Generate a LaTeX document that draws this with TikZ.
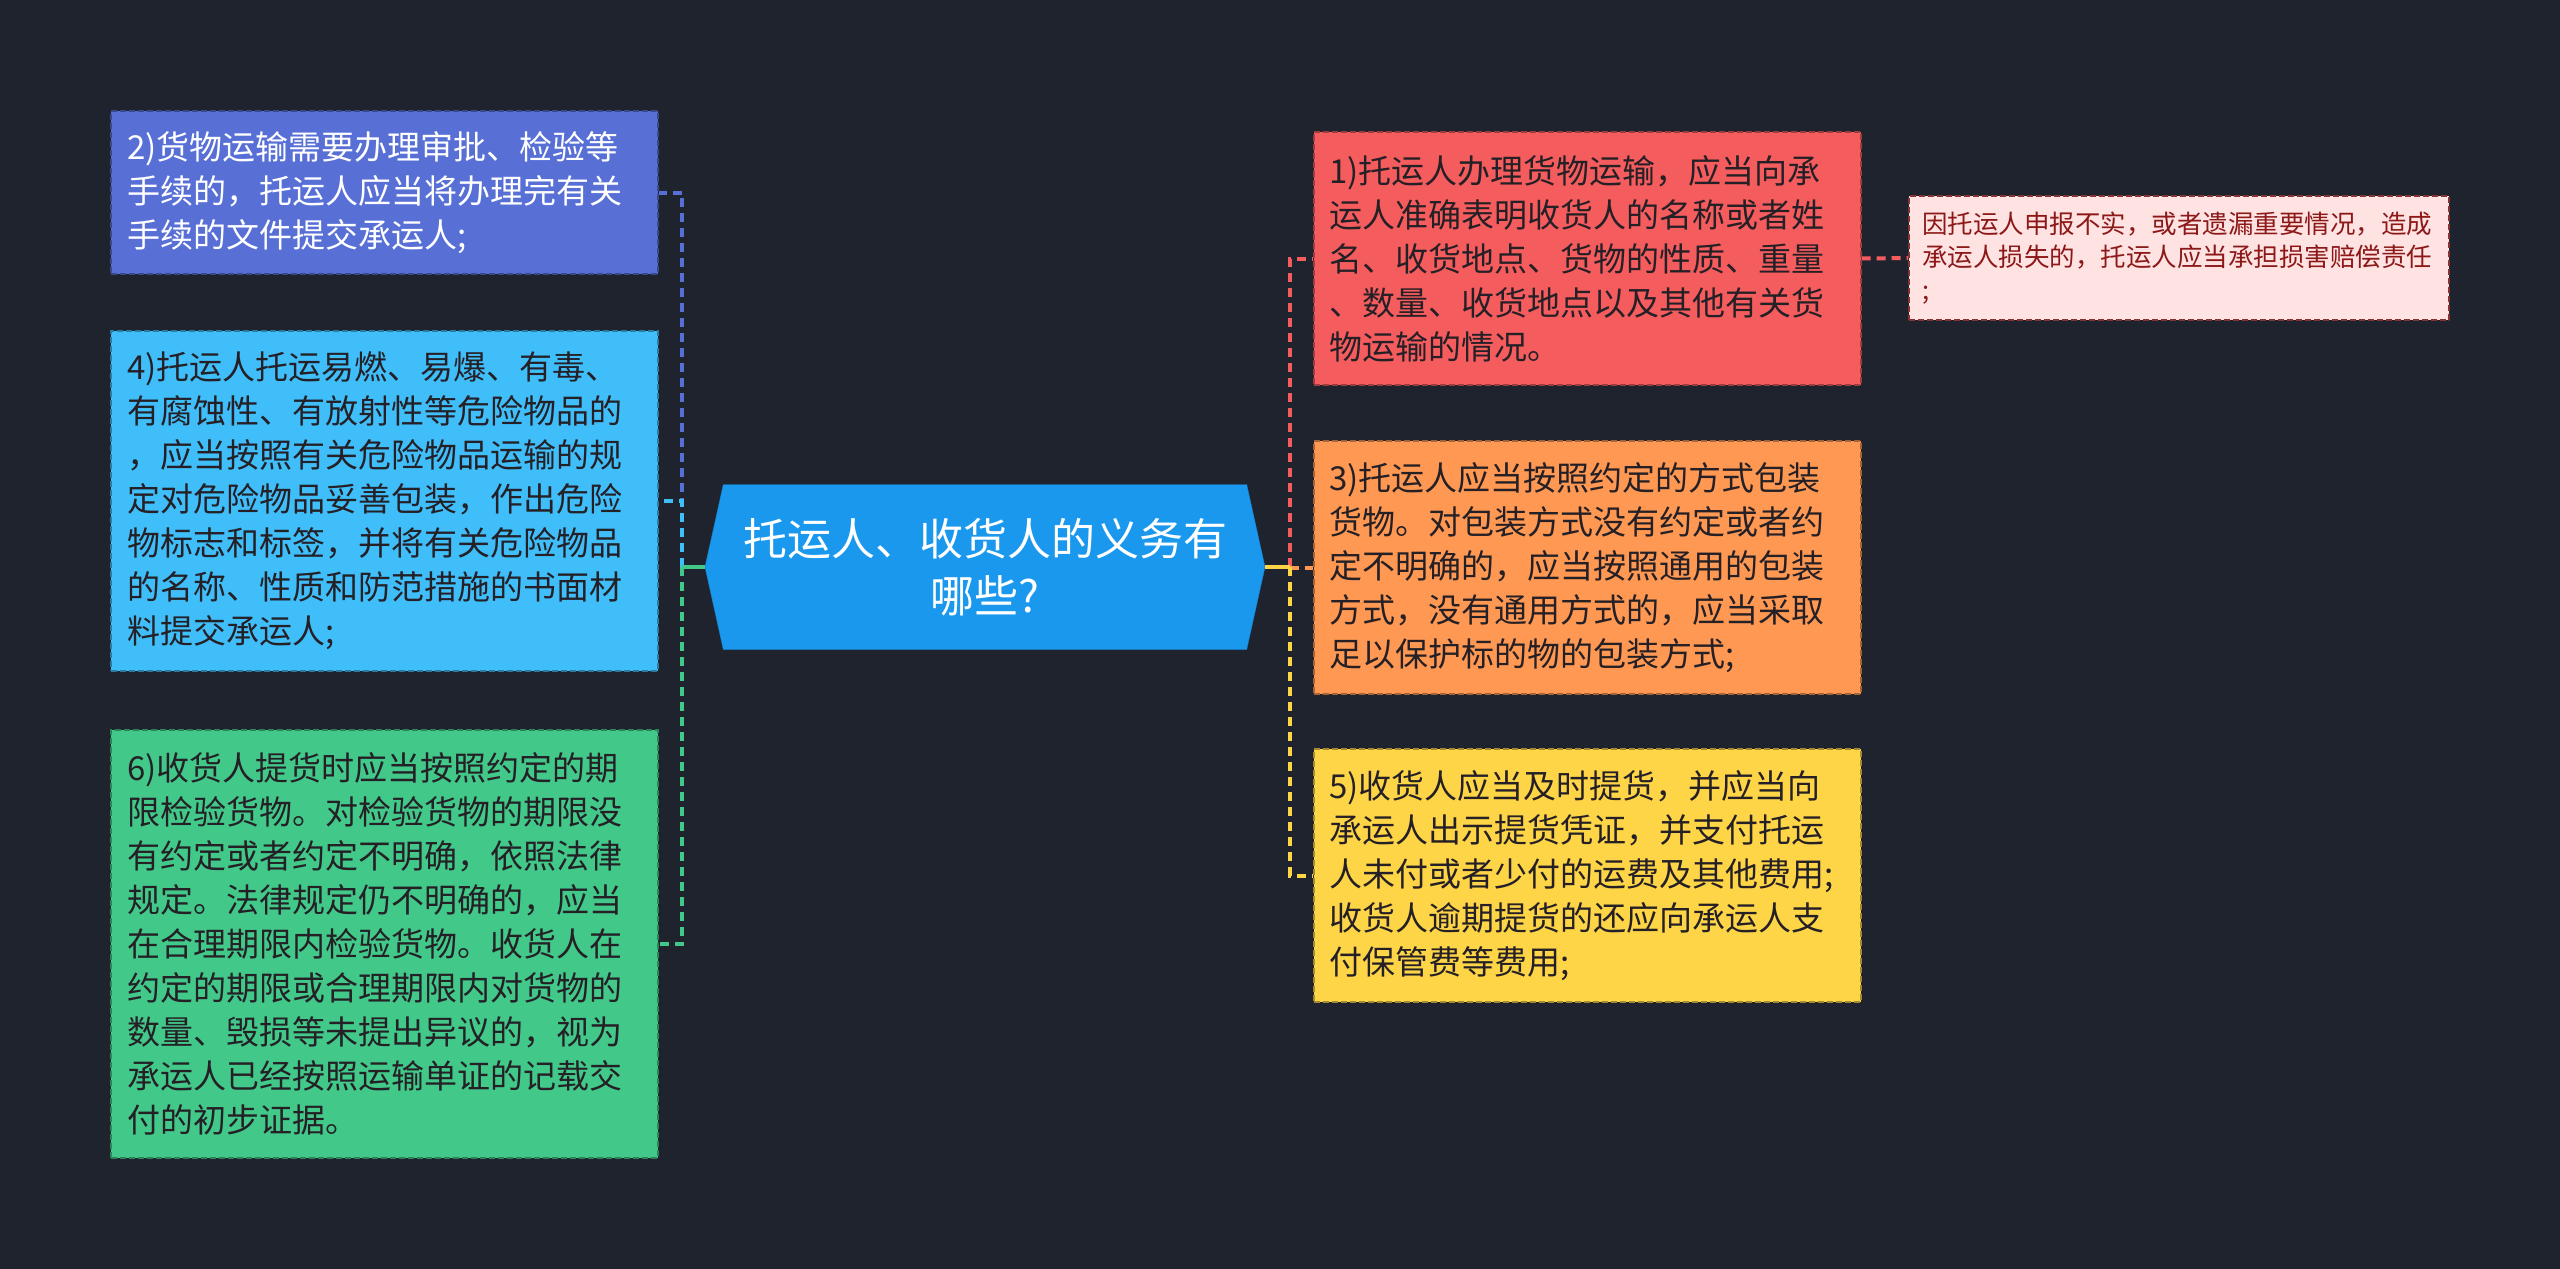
\documentclass[tikz,border=0pt]{standalone}
\usepackage{fontspec}
\setmainfont{Noto Sans CJK SC}
\usepackage{tikz}
\usetikzlibrary{shapes.symbols,positioning}
\definecolor{bgdark}{RGB}{31,35,46}
\definecolor{rootblue}{RGB}{26,152,238}
\definecolor{inkdark}{RGB}{36,32,38}
\definecolor{notered}{RGB}{140,24,24}
\definecolor{c1}{RGB}{245,92,94}
\definecolor{c2}{RGB}{88,112,214}
\definecolor{c3}{RGB}{255,152,82}
\definecolor{c4}{RGB}{64,190,250}
\definecolor{c5}{RGB}{255,213,72}
\definecolor{c6}{RGB}{66,201,138}
\definecolor{c7}{RGB}{255,226,226}

\begin{document}
\begin{tikzpicture}[x=1pt,y=-1pt,
  topic/.style={signal,signal to=west and east,signal pointer angle=155,
    fill=rootblue,draw=rootblue!85!black,text=white,inner sep=0pt,
    minimum width=560pt,minimum height=165pt,align=center,
    font=\fontsize{44}{57}\selectfont},
  item/.style={fill=#1,draw=#1!65!black,dash pattern=on 6pt off 3pt,
    line width=2pt,text width=515pt,inner sep=16pt,align=left,
    text=inkdark,font=\fontsize{33}{44}\selectfont},
  memo/.style={fill=c7,draw=c1!55!black,dash pattern=on 6pt off 3pt,
    line width=2pt,text width=514pt,inner sep=13pt,align=left,
    text=notered,font=\fontsize{25.5}{33}\selectfont},
  link/.style={line width=4pt,dash pattern=on 9pt off 6pt},
  stem/.style={line width=4pt},
]
  \fill[bgdark] (0,0) rectangle (2560,1269);

  % central topic
  \node[topic] (root) at (985,567) {托运人、收货人的义务有\\哪些?};

  % left branches
  \node[item=c2,text=white,minimum height=163pt] (b2) at (384.5,192.5)
    {2)货物运输需要办理审批、检验等\\手续的，托运人应当将办理完有关\\手续的文件提交承运人;};
  \node[item=c4,minimum height=340pt] (b4) at (384.5,501)
    {4)托运人托运易燃、易爆、有毒、\\有腐蚀性、有放射性等危险物品的\\，应当按照有关危险物品运输的规\\定对危险物品妥善包装，作出危险\\物标志和标签，并将有关危险物品\\的名称、性质和防范措施的书面材\\料提交承运人;};
  \node[item=c6,minimum height=428pt] (b6) at (384.5,944)
    {6)收货人提货时应当按照约定的期\\限检验货物。对检验货物的期限没\\有约定或者约定不明确，依照法律\\规定。法律规定仍不明确的，应当\\在合理期限内检验货物。收货人在\\约定的期限或合理期限内对货物的\\数量、毁损等未提出异议的，视为\\承运人已经按照运输单证的记载交\\付的初步证据。};

  % right branches
  \node[item=c1,minimum height=253pt] (b1) at (1587,258.5)
    {1)托运人办理货物运输，应当向承\\运人准确表明收货人的名称或者姓\\名、收货地点、货物的性质、重量\\、数量、收货地点以及其他有关货\\物运输的情况。};
  \node[item=c3,minimum height=253pt] (b3) at (1587,567.5)
    {3)托运人应当按照约定的方式包装\\货物。对包装方式没有约定或者约\\定不明确的，应当按照通用的包装\\方式，没有通用方式的，应当采取\\足以保护标的物的包装方式;};
  \node[item=c5,minimum height=253pt] (b5) at (1587,875.5)
    {5)收货人应当及时提货，并应当向\\承运人出示提货凭证，并支付托运\\人未付或者少付的运费及其他费用;\\收货人逾期提货的还应向承运人支\\付保管费等费用;};
  \node[memo,minimum height=124pt] (note) at (2179,258)
    {因托运人申报不实，或者遗漏重要情况，造成\\承运人损失的，托运人应当承担损害赔偿责任\\;};

  % connectors
  \coordinate (busL) at (682,567);
  \coordinate (busR) at (1290,567);
  \foreach \b/\c in {b2/c2,b4/c4,b6/c6}
    \draw[link,\c] (busL) |- (\b.east);
  \foreach \b/\c in {b1/c1,b3/c3,b5/c5}
    \draw[link,\c] (busR) |- (\b.west);
  \draw[stem,c6] (root.west) -- (busL);
  \draw[stem,c5] (root.east) -- (busR);
  \draw[link,c1] (b1.east) -- (note.west);
\end{tikzpicture}
\end{document}
